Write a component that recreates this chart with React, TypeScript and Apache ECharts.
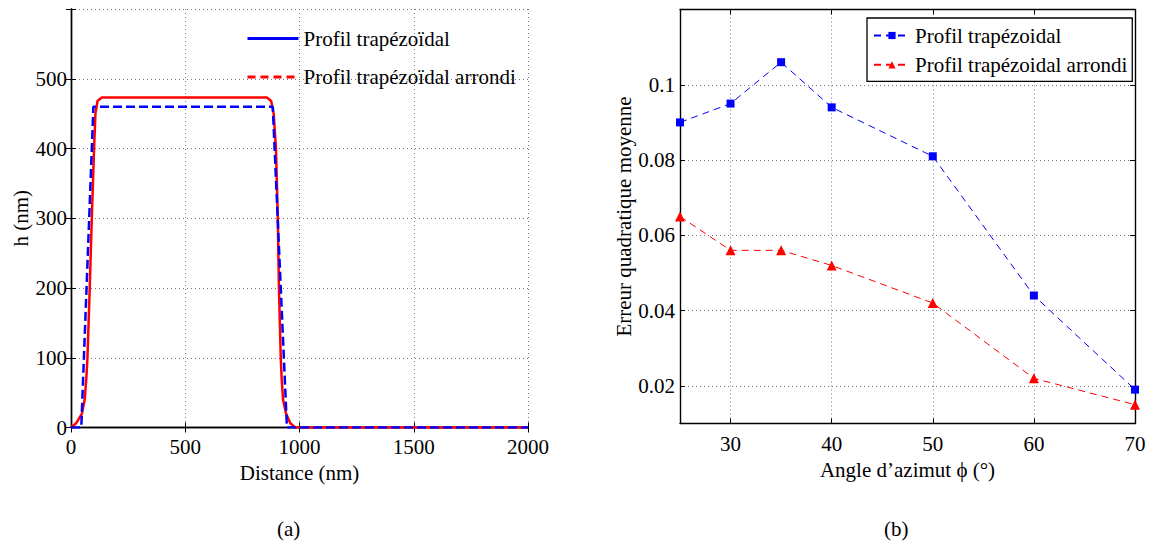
import React, { useEffect, useRef } from "react";
import * as echarts from "echarts";

// Left chart (a): profile h(nm) versus distance (nm)
const trapX = [0, 45, 98, 883, 945, 2000];
const trapH = [0, 0, 460, 460, 0, 0];
const roundX = [0, 22, 48, 60, 67, 72, 82, 91, 101, 107, 116, 134, 858, 876, 887, 897, 905, 910, 918, 922, 928, 941, 960, 981, 2000];
const roundH = [0, 6, 20, 40, 70, 100, 200, 300, 400, 450, 468, 473, 473, 468, 450, 400, 300, 200, 100, 70, 40, 20, 6, 0, 0];

// Right chart (b): error versus azimuth angle
const angles = [25, 30, 35, 40, 50, 60, 70];
const errTrap = [0.09, 0.095, 0.106, 0.094, 0.081, 0.044, 0.019];
const errRound = [0.065, 0.056, 0.056, 0.052, 0.042, 0.022, 0.015];
const rightXTicks = [30, 40, 50, 60, 70];
const rightYTicks = [0.02, 0.04, 0.06, 0.08, 0.1];

const NAME_A1 = "Profil trapézoïdal";
const NAME_A2 = "Profil trapézoïdal arrondi";
const NAME_B1 = "Profil trapézoidal";
const NAME_B2 = "Profil trapézoidal arrondi";

const FONT = "Liberation Serif";
const FS = 21;
const BLUE = "#0000ff";
const RED = "#ff0000";

export default function App() {
  const ref = useRef<HTMLDivElement>(null);
  useEffect(() => {
    document.body.style.margin = "0";
    const chart = echarts.init(ref.current!, null, { renderer: "svg" });
    const lbl = { color: "#000", fontFamily: FONT, fontSize: FS };
    const grid = { lineStyle: { color: "#777", type: [1, 3] as any, width: 1 } };
    const axLine = { show: true, lineStyle: { color: "#000", width: 1.4 } };
    const tick = { show: true, inside: true, length: 5, lineStyle: { color: "#000" } };
    const zip = (a: number[], b: number[]) => a.map((v, i) => [v, b[i]]);

    chart.setOption({
      animation: false,
      textStyle: { fontFamily: FONT },
      grid: [
        { left: 71, top: 9, width: 457, height: 418.5 },
        { left: 680, top: 9.5, width: 455, height: 414 },
      ],
      xAxis: [
        {
          gridIndex: 0, type: "value", min: 0, max: 2000, interval: 500,
          name: "Distance (nm)", nameLocation: "middle", nameGap: 32,
          nameTextStyle: { ...lbl },
          axisLine: axLine, axisTick: tick, splitLine: { show: true, ...grid },
          axisLabel: { ...lbl, margin: 9, formatter: (v: number) => String(v) },
        },
        {
          gridIndex: 0, type: "value", min: 0, max: 2000, interval: 500, position: "top",
          axisLine: axLine, axisTick: tick, splitLine: { show: false }, axisLabel: { show: false },
        },
        {
          gridIndex: 1, type: "value", min: 25, max: 70,
          name: "Angle d’azimut ϕ (°)", nameLocation: "middle", nameGap: 34,
          nameTextStyle: { ...lbl },
          axisLine: axLine,
          axisTick: { ...tick, customValues: rightXTicks },
          splitLine: { show: true, ...grid },
          axisLabel: { ...lbl, margin: 10, customValues: rightXTicks },
        },
        {
          gridIndex: 1, type: "value", min: 25, max: 70, position: "top",
          axisLine: axLine, axisTick: { ...tick, customValues: rightXTicks },
          splitLine: { show: false }, axisLabel: { show: false, customValues: rightXTicks },
        },
      ],
      yAxis: [
        {
          gridIndex: 0, type: "value", min: 0, max: 600, interval: 100,
          name: "h (nm)", nameLocation: "middle", nameGap: 40, nameRotate: 90,
          nameTextStyle: { ...lbl },
          axisLine: axLine, axisTick: tick, splitLine: { show: true, ...grid },
          axisLabel: { ...lbl, margin: 4, formatter: (v: number) => (v >= 600 ? "" : String(v)) },
        },
        {
          gridIndex: 0, type: "value", min: 0, max: 600, interval: 100, position: "right",
          axisLine: axLine, axisTick: tick, splitLine: { show: false }, axisLabel: { show: false },
        },
        {
          gridIndex: 1, type: "value", min: 0.01, max: 0.12,
          name: "Erreur quadratique moyenne", nameLocation: "middle", nameGap: 46, nameRotate: 90,
          nameTextStyle: { ...lbl },
          axisLine: axLine,
          axisTick: { ...tick, customValues: rightYTicks },
          splitLine: { show: true, ...grid },
          axisLabel: { ...lbl, margin: 5, customValues: rightYTicks },
        },
        {
          gridIndex: 1, type: "value", min: 0.01, max: 0.12, position: "right",
          axisLine: axLine, axisTick: { ...tick, customValues: rightYTicks },
          splitLine: { show: false }, axisLabel: { show: false, customValues: rightYTicks },
        },
      ],
      legend: [
        {
          left: 246, top: 28, padding: 0, orient: "vertical", itemWidth: 51, itemHeight: 10, itemGap: 17.5,
          textStyle: { ...lbl },
          data: [
            { name: NAME_A1, itemStyle: { opacity: 0 }, lineStyle: { type: "solid", width: 3, color: BLUE } },
            { name: NAME_A2, itemStyle: { opacity: 0 }, lineStyle: { type: [8, 5], width: 3, color: RED } },
          ],
        },
        {
          left: 867, top: 18, orient: "vertical", itemWidth: 36, itemHeight: 9, itemGap: 8.3,
          padding: [7, 5, 6, 6],
          borderColor: "#000", borderWidth: 1.3, backgroundColor: "#fff",
          textStyle: { ...lbl },
          data: [NAME_B1, NAME_B2],
        },
      ],
      series: [
        {
          name: NAME_A1, type: "line", xAxisIndex: 0, yAxisIndex: 0,
          data: zip(trapX, trapH), showSymbol: false, symbol: "none",
          lineStyle: { color: BLUE, width: 2.5, type: [9, 4] }, itemStyle: { color: BLUE }, z: 3,
        },
        {
          name: NAME_A2, type: "line", xAxisIndex: 0, yAxisIndex: 0,
          data: zip(roundX, roundH), showSymbol: false, symbol: "none",
          lineStyle: { color: RED, width: 2.5, type: "solid" }, itemStyle: { color: RED }, z: 2,
        },
        {
          name: NAME_B1, type: "line", xAxisIndex: 2, yAxisIndex: 2,
          data: zip(angles, errTrap), symbol: "rect", symbolSize: 8,
          lineStyle: { color: BLUE, width: 1, type: [7, 5] }, itemStyle: { color: BLUE },
        },
        {
          name: NAME_B2, type: "line", xAxisIndex: 2, yAxisIndex: 2,
          data: zip(angles, errRound), symbol: "triangle", symbolSize: 10,
          lineStyle: { color: RED, width: 1, type: [7, 5] }, itemStyle: { color: RED },
        },
      ],
      graphic: [
        { type: "text", left: 277, top: 518, style: { text: "(a)", font: `${FS}px "${FONT}"`, fill: "#000" } },
        { type: "text", left: 884, top: 518, style: { text: "(b)", font: `${FS}px "${FONT}"`, fill: "#000" } },
      ],
    });
    return () => chart.dispose();
  }, []);
  return <div ref={ref} style={{ width: 1153, height: 544 }} />;
}
